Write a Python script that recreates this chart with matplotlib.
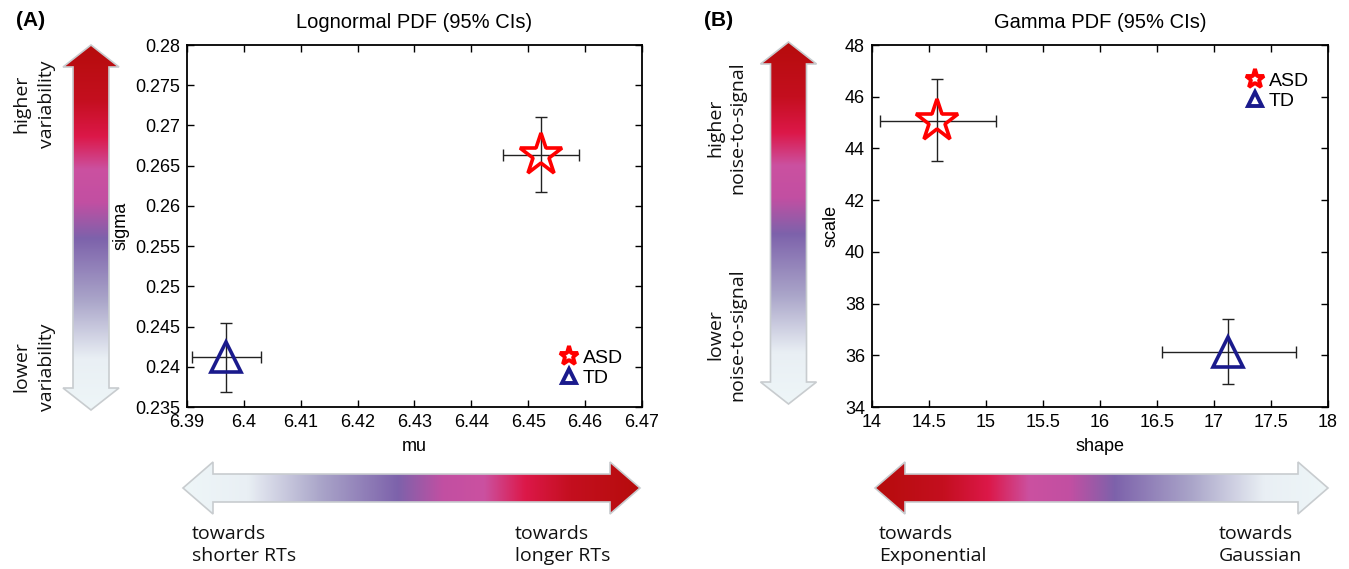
import numpy as np
import matplotlib.pyplot as plt
from matplotlib.colors import LinearSegmentedColormap
from matplotlib.patches import Polygon
from matplotlib.lines import Line2D
from matplotlib.ticker import FormatStrFormatter

plt.rcParams['font.family'] = ['Liberation Sans', 'DejaVu Sans']

# ---- data (point estimates with 95% CIs) ----
groups = ['ASD', 'TD']

logn_mu = [6.4522, 6.3968]
logn_mu_lo = [6.4455, 6.3909]
logn_mu_hi = [6.4589, 6.4030]
logn_sigma = [0.2663, 0.2412]
logn_sigma_lo = [0.2617, 0.2369]
logn_sigma_hi = [0.2711, 0.2455]

gam_shape = [14.57, 17.12]
gam_shape_lo = [14.07, 16.54]
gam_shape_hi = [15.09, 17.72]
gam_scale = [45.06, 36.13]
gam_scale_lo = [43.51, 34.88]
gam_scale_hi = [46.70, 37.40]

markers = ['*', '^']
colors = ['#ff0000', '#1a1a8c']

W, H = 1349, 569
fig = plt.figure(figsize=(W / 100, H / 100), dpi=100)

# gradient used by the decorative arrows (0 = pale, 1 = dark red)
grad = LinearSegmentedColormap.from_list('grad', [
    (0.00, '#eef6f8'), (0.14, '#e9eff4'), (0.30, '#aaa5c9'),
    (0.47, '#7d62ab'), (0.57, '#c24fa2'), (0.66, '#cb51a0'),
    (0.75, '#dc1849'), (0.85, '#c40f1f'), (1.00, '#b60c0c')])

bg = fig.add_axes([0, 0, 1, 1], zorder=-1)
bg.set_xlim(0, W)
bg.set_ylim(H, 0)
bg.axis('off')


def arrow(x0, x1, y0, y1, horizontal, red_end):
    """double arrow, gradient pale -> red towards red_end ('lo' or 'hi')"""
    g = np.linspace(0, 1, 256)
    if horizontal:
        yc = (y0 + y1) / 2
        bh, hh, hl = 14, 26, 30
        pts = [(x0, yc), (x0 + hl, yc - hh), (x0 + hl, yc - bh), (x1 - hl, yc - bh),
               (x1 - hl, yc - hh), (x1, yc), (x1 - hl, yc + hh), (x1 - hl, yc + bh),
               (x0 + hl, yc + bh), (x0 + hl, yc + hh)]
        img = g[None, :] if red_end == 'hi' else g[::-1][None, :]
        ext = (x0, x1, yc + hh, yc - hh)
    else:
        xc = (x0 + x1) / 2
        bh, hh, hl = 18, 28, 22
        pts = [(xc, y0), (xc + hh, y0 + hl), (xc + bh, y0 + hl), (xc + bh, y1 - hl),
               (xc + hh, y1 - hl), (xc, y1), (xc - hh, y1 - hl), (xc - bh, y1 - hl),
               (xc - bh, y0 + hl), (xc - hh, y0 + hl)]
        img = g[::-1][:, None] if red_end == 'lo' else g[:, None]
        ext = (xc - hh, xc + hh, y1, y0)
    im = bg.imshow(img, cmap=grad, extent=ext, aspect='auto', origin='upper',
                   interpolation='bilinear')
    poly = Polygon(pts, closed=True, fc='none', ec='#c8cccf', lw=1.2)
    bg.add_patch(poly)
    im.set_clip_path(poly)


arrow(63, 119, 45, 410, False, 'lo')
arrow(760, 817, 42, 404, False, 'lo')
arrow(183, 640, 488, 488, True, 'hi')
arrow(875, 1328, 488, 488, True, 'lo')

afont = dict(family=['Open Sans', 'DejaVu Sans'], fontsize=14, color='#111111')
fig.text(34 / W, 1 - 104 / H, 'higher\nvariability', rotation=90, ha='center', va='center',
         linespacing=1.5, **afont)
fig.text(34 / W, 1 - 367 / H, 'lower\nvariability', rotation=90, ha='center', va='center',
         linespacing=1.5, **afont)
fig.text(726 / W, 1 - 128 / H, 'higher\nnoise-to-signal', rotation=90, ha='center', va='center',
         linespacing=1.3, **afont)
fig.text(726 / W, 1 - 335 / H, 'lower\nnoise-to-signal', rotation=90, ha='center', va='center',
         linespacing=1.3, **afont)
fig.text(192 / W, 1 - 545 / H, 'towards\nshorter RTs', ha='left', va='center',
         linespacing=1.3, **afont)
fig.text(515 / W, 1 - 545 / H, 'towards\nlonger RTs', ha='left', va='center',
         linespacing=1.3, **afont)
fig.text(879 / W, 1 - 545 / H, 'towards\nExponential', ha='left', va='center',
         linespacing=1.3, **afont)
fig.text(1219 / W, 1 - 545 / H, 'towards\nGaussian', ha='left', va='center',
         linespacing=1.3, **afont)

fig.text(16 / W, 1 - 21 / H, '(A)', fontsize=15, fontweight='bold', va='center')
fig.text(704 / W, 1 - 21 / H, '(B)', fontsize=15, fontweight='bold', va='center')


def panel(rect, x, xlo, xhi, y, ylo, yhi, xlim, ylim, xt, yt, xl, yl, title, legloc, legxy):
    ax = fig.add_axes(rect)
    for i in range(len(groups)):
        ax.errorbar(x[i], y[i], xerr=[[x[i] - xlo[i]], [xhi[i] - x[i]]],
                    yerr=[[y[i] - ylo[i]], [yhi[i] - y[i]]], fmt='none',
                    ecolor='#222222', elinewidth=1, capsize=4, capthick=1, zorder=2)
        ax.plot(x[i], y[i], marker=markers[i], ms=32 if i == 0 else 22, mfc='none',
                mec=colors[i], mew=2.6, ls='none', zorder=3)
    ax.set_xlim(xlim)
    ax.set_ylim(ylim)
    ax.set_xticks(xt)
    ax.set_yticks(yt)
    ax.xaxis.set_major_formatter(FormatStrFormatter('%g'))
    ax.yaxis.set_major_formatter(FormatStrFormatter('%g'))
    ax.tick_params(direction='in', top=True, right=True, length=5, width=1,
                   labelsize=13, pad=5)
    for s in ax.spines.values():
        s.set_linewidth(1.3)
    ax.set_xlabel(xl, fontsize=13, labelpad=5)
    ax.set_ylabel(yl, fontsize=13, labelpad=4)
    ax.set_title(title, fontsize=14.5, pad=12)
    handles = [Line2D([], [], marker=markers[i], ms=14 if i == 0 else 10, mfc='white',
                      mec=colors[i], mew=2.8, ls='none') for i in range(len(groups))]
    ax.legend(handles, groups, loc=legloc, bbox_to_anchor=legxy, frameon=False,
              fontsize=14, handletextpad=0.1, labelspacing=0.1, borderaxespad=0,
              handlelength=1.2)
    return ax


panel([187 / W, 1 - 407 / H, 455 / W, 362 / H], logn_mu, logn_mu_lo, logn_mu_hi,
      logn_sigma, logn_sigma_lo, logn_sigma_hi, (6.39, 6.47), (0.235, 0.28),
      np.arange(6.39, 6.4701, 0.01), np.arange(0.235, 0.28001, 0.005),
      'mu', 'sigma', 'Lognormal PDF (95% CIs)', 'lower right', (0.975, 0.035))
panel([872 / W, 1 - 407 / H, 456 / W, 362 / H], gam_shape, gam_shape_lo, gam_shape_hi,
      gam_scale, gam_scale_lo, gam_scale_hi, (14, 18), (34, 48),
      np.arange(14, 18.01, 0.5), np.arange(34, 48.01, 2),
      'shape', 'scale', 'Gamma PDF (95% CIs)', 'upper right', (0.975, 0.945))

fig.savefig('out.png', dpi=100)
